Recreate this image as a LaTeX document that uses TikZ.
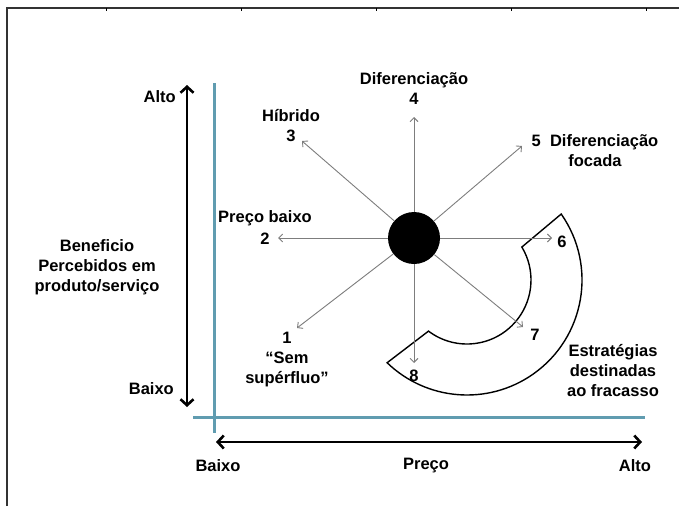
\documentclass[tikz,border=0pt]{standalone}
\usepackage{fontspec}
\setmainfont{Liberation Sans}
\usetikzlibrary{arrows.meta,calc}
\definecolor{tealguide}{RGB}{96,156,176}
\definecolor{raygray}{RGB}{125,125,125}
\begin{document}
\begin{tikzpicture}[x=1pt,y=-1pt,
  lbl/.style={font=\bfseries\fontsize{16.5}{20}\selectfont, align=center, inner sep=0pt},
  ray/.style={draw=raygray, line width=0.9pt, -{Straight Barb[length=4pt,width=8pt]}},
  axisarrow/.style={line width=2.6pt, {Straight Barb[length=6pt,width=13pt]}-{Straight Barb[length=6pt,width=13pt]}},
  guide/.style={draw=tealguide, line width=3pt},
  frameline/.style={line width=1.4pt, draw=black!80},
  failshape/.style={line width=1.4pt, line join=miter}]
\useasboundingbox (0,0) rectangle (679,506);
% frame
\draw[frameline] (7,506) -- (7,8) -- (679,8);
\foreach \x in {106,241,376,511,646} \draw[line width=1pt] (\x,8) -- (\x,10.5);
% guides
\draw[guide] (214,83) -- (214,433);
\draw[guide] (193,417) -- (645,417);
% axes
\coordinate (vt) at (187,85);
\coordinate (vb) at (187,407);
\draw[axisarrow] (vb) -- (vt);
\coordinate (hl) at (216,442);
\coordinate (hr) at (642,442);
\draw[axisarrow] (hl) -- (hr);
\node[lbl, anchor=east] (valto) at (176,97) {Alto};
\node[lbl, anchor=east] (vbaixo) at (174,389) {Baixo};
\node[lbl] (vtitle) at (97,267) {Beneficio\\Percebidos em\\produto/serviço};
\node[lbl] (hbaixo) at (218,466) {Baixo};
\node[lbl] (hpreco) at (426,466) {Preço};
\node[lbl] (halto) at (635,466) {Alto};
% failing strategies shape
\coordinate (o) at (467,280);
\draw[failshape] ($(o)+(-35:115)$) arc[start angle=-35, end angle=134, radius=115]
  -- ($(o)+(127:64)$) arc[start angle=127, end angle=-31, radius=64] -- cycle;
% centre and rays
\node[circle, fill=black, minimum size=52pt, inner sep=0pt] (c) at (414,238) {};
\coordinate (e1) at (297,328);
\coordinate (e2) at (278,238);
\coordinate (e3) at (302,141);
\coordinate (e4) at (414,117);
\coordinate (e5) at (522,146);
\coordinate (e6) at (552,238);
\coordinate (e7) at (523,327);
\coordinate (e8) at (414,363);
\foreach \i in {1,...,8} \draw[ray] (c) -- (e\i);
% labels
\node[lbl] (l4) at (414,89) {Diferenciação\\4};
\node[lbl] (l3) at (291,126) {Híbrido\\3};
\node[lbl] (l2) at (265,228) {Preço baixo\\[2pt]2};
\node[lbl] (l5) at (595,151) {5\ \ Diferenciação\\focada};
\node[lbl] (l1) at (287,360) {1\\“Sem\\supérfluo”};
\node[lbl] (l6) at (562,242) {6};
\node[lbl] (l7) at (535,335) {7};
\node[lbl] (l8) at (414,376) {8};
\node[lbl] (lf) at (613,371) {Estratégias\\destinadas\\ao fracasso};
\end{tikzpicture}
\end{document}
